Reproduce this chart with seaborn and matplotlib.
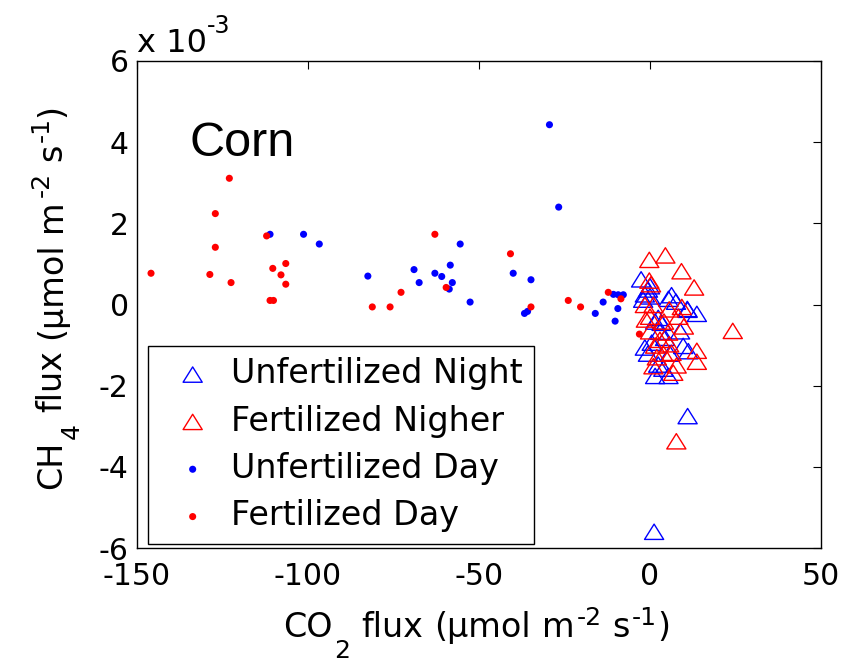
import numpy as np
import pandas as pd
import matplotlib
matplotlib.use("Agg")
import matplotlib.pyplot as plt
from matplotlib.path import Path
import seaborn as sns

# ---------------- data (CH4 flux in units of 1e-3) ----------------
unfert_night_x = [-2.6, -1.5, 0.0, -2.0, 6.3, 5.4, 10.9, 13.7, 2.4, 3.4, 8.8, 0.5, -1.5, 9.7,
                  11.2, 2.4, 1.5, 3.9, 5.4, 11.0, 1.2, 11.0, 0.0, -0.6, 2.9, 1.5, 4.4, -0.6,
                  5.8, 7.6]
unfert_night_y = [0.62, 0.25, 0.20, 0.12, 0.23, 0.14, -0.11, -0.23, -0.33, -0.45, -0.66, -0.94,
                  -1.06, -1.02, -1.15, -1.48, -1.76, -1.58, -1.76, -2.75, -5.60, -0.13, 0.45,
                  0.37, -0.67, -0.42, -0.82, -1.21, -1.21, 0.07]

fert_night_x = [-0.2, 4.5, 9.2, 12.9, 24.2, -0.2, 0.3, -1.5, 1.0, 5.6, 9.3, 8.3, 0.0, 0.0,
                2.9, 1.5, 5.6, 6.3, 2.0, 3.9, 13.7, 13.7, 1.0, 7.8, 6.8, 7.7, 4.1, -1.2,
                5.3, 9.9]
fert_night_y = [1.10, 1.21, 0.82, 0.42, -0.65, 0.59, 0.50, -0.01, -0.01, -0.12, -0.06, -0.30,
                -0.30, -0.66, -0.87, -1.01, -0.98, -1.19, -1.30, -1.21, -1.14, -1.41, -1.52,
                -1.50, -1.68, -3.37, -0.42, -0.37, -0.69, -0.54]

unfert_day_x = [-111.1, -101.3, -96.7, -82.5, -69.0, -67.5, -62.9, -60.9, -58.4, -57.8, -58.7,
                -55.5, -52.6, -40.0, -34.8, -36.7, -35.8, -29.4, -26.7, -16.0, -13.7, -10.7,
                -9.3, -7.8, -9.4, -10.2]
unfert_day_y = [1.73, 1.73, 1.49, 0.70, 0.86, 0.54, 0.77, 0.69, 0.97, 0.54, 0.38, 1.49, 0.06,
                0.77, 0.61, -0.22, -0.17, 4.43, 2.40, -0.22, 0.06, 0.25, 0.24, 0.24, -0.10,
                -0.41]

fert_day_x = [-145.9, -123.0, -127.1, -127.1, -128.7, -122.5, -112.1, -110.3, -106.5, -107.9,
              -106.5, -111.1, -110.1, -81.2, -76.0, -72.8, -62.9, -59.6, -40.8, -34.8, -23.9,
              -20.3, -12.2, -8.5, -3.1]
fert_day_y = [0.77, 3.11, 2.24, 1.41, 0.74, 0.54, 1.69, 0.89, 1.01, 0.73, 0.50, 0.10, 0.10,
              -0.06, -0.06, 0.30, 1.73, 0.42, 1.25, -0.06, 0.10, -0.06, 0.30, 0.14, -0.73]

labels = ["Unfertilized Night", "Fertilized Nigher", "Unfertilized Day", "Fertilized Day"]
x_ticks = [-150, -100, -50, 0, 50]
y_ticks = [-6, -4, -2, 0, 2, 4, 6]

# axis-label pieces: (text, kind) with kind = main / sub / sup ; " " = word space
xlabel_parts = [("CO", "main"), ("2", "sub"), (" ", "gap"), ("flux", "main"), (" ", "gap"),
                ("(µmol", "main"), (" ", "gap"), ("m", "main"), ("-2", "sup"), (" ", "gap"),
                ("s", "main"), ("-1", "sup"), (")", "main")]
ylabel_parts = [("CH", "main"), ("4", "sub"), (" ", "gap"), ("flux", "main"), (" ", "gap"),
                ("(µmol", "main"), (" ", "gap"), ("m", "main"), ("-2", "sup"), (" ", "gap"),
                ("s", "main"), ("-1", "sup"), (")", "main")]

# ---------------- style ----------------
sns.set_style("white")
plt.rcParams["font.family"] = ["DejaVu Sans"]
plt.rcParams["axes.unicode_minus"] = False
for k in ["text.color", "axes.labelcolor", "xtick.color", "ytick.color", "axes.edgecolor"]:
    plt.rcParams[k] = "black"

W, H = 852, 664
fig = plt.figure(figsize=(W / 100, H / 100), dpi=100)
ax = fig.add_axes([137 / W, 1 - 548 / H, (821 - 137) / W, (548 - 61) / H])

tri = Path([(0, 0.8), (-1, -0.8), (1, -0.8), (0, 0.8)],
           [Path.MOVETO, Path.LINETO, Path.LINETO, Path.CLOSEPOLY])

sns.scatterplot(x=unfert_night_x, y=unfert_night_y, ax=ax, marker=tri, s=190,
                facecolor="none", edgecolor="#0000ff", linewidth=1.0, label=labels[0])
sns.scatterplot(x=fert_night_x, y=fert_night_y, ax=ax, marker=tri, s=190,
                facecolor="none", edgecolor="#ff0000", linewidth=1.0, label=labels[1])
sns.scatterplot(x=unfert_day_x, y=unfert_day_y, ax=ax, marker="o", s=26,
                color="#0000ff", edgecolor="none", linewidth=0, label=labels[2])
sns.scatterplot(x=fert_day_x, y=fert_day_y, ax=ax, marker="o", s=26,
                color="#ff0000", edgecolor="none", linewidth=0, label=labels[3])

ax.set_xlim(-150, 50)
ax.set_ylim(-6, 6)
ax.set_xticks(x_ticks)
ax.set_yticks(y_ticks)
ax.set_xticklabels([str(v) for v in x_ticks])
ax.set_yticklabels([str(v) for v in y_ticks])
ax.tick_params(direction="in", top=True, right=True, length=6, width=0.8,
               labelsize=21.5, colors="black")
ax.tick_params(axis="x", pad=10)
ax.tick_params(axis="y", pad=6)
for sp in ax.spines.values():
    sp.set_visible(True)
    sp.set_color("black")
    sp.set_linewidth(1.0)
ax.set_xlabel("")
ax.set_ylabel("")

# ---- axis labels built from pieces (MATLAB-like large sub/superscripts) ----
sizes = {"main": 24, "sub": 18, "sup": 18}
renderer = fig.canvas.get_renderer()
SPACE = 11.0
SCRIPT_GAP = 2.0


def rich_label(parts, center, base, rotation):
    """Lay pieces out one after the other; center = px along the text,
    base = dict of baseline offsets (px) across the text."""
    items = []
    total = 0.0
    for s, kind in parts:
        if kind == "gap":
            items.append((None, SPACE))
            total += SPACE
            continue
        t = fig.text(0, 0, s, fontsize=sizes[kind], ha="left", va="baseline",
                     rotation=rotation, rotation_mode="anchor")
        bb = t.get_window_extent(renderer)
        w = bb.width if rotation == 0 else bb.height
        pad = SCRIPT_GAP if kind in ("sub", "sup") else 0.0
        items.append(((t, kind, pad), w + pad))
        total += w + pad
    pos = center - total / 2
    for it, w in items:
        if it is not None:
            t, kind, pad = it
            p = pos + pad
            if rotation == 0:
                t.set_position((p / W, 1 - base[kind] / H))
            else:
                t.set_position((base[kind] / W, p / H))
        pos += w


rich_label(xlabel_parts, 476.5, {"main": 636.7, "sub": 657.5, "sup": 625}, 0)
rich_label(ylabel_parts, H - 296.5, {"main": 61, "sub": 79, "sup": 49}, 90)

# exponent label
fig.text(137 / W, 1 - 52 / H, "x 10", fontsize=23, ha="left", va="baseline")
fig.text(207 / W, 1 - 33 / H, "-3", fontsize=17, ha="left", va="baseline")

fig.text(189 / W, 1 - 156 / H, "Corn", fontsize=35, ha="left", va="baseline",
         family=["Liberation Sans"])

leg = ax.legend(loc="upper left", bbox_to_anchor=(148 / W, 1 - 346 / H),
                bbox_transform=fig.transFigure, fontsize=24, frameon=True,
                fancybox=False, edgecolor="black", framealpha=1, borderpad=0.34,
                labelspacing=0.43, handletextpad=0.15, borderaxespad=0, handlelength=2.0)
leg.get_frame().set_linewidth(1.0)

fig.savefig("out.png", dpi=100)
